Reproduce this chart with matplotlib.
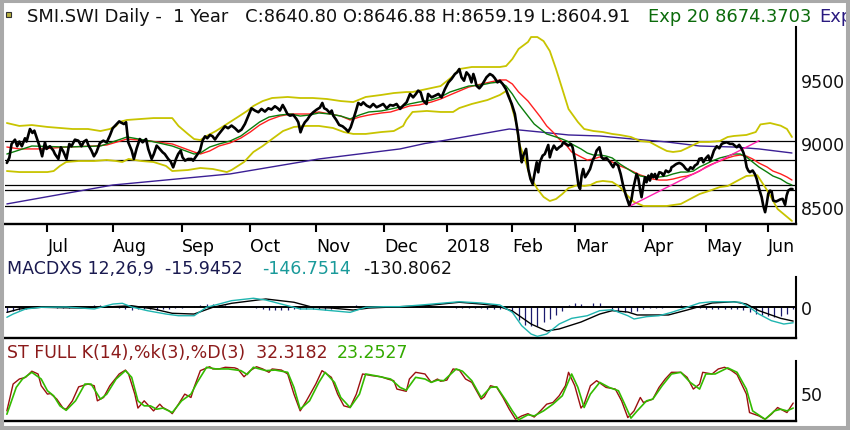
import matplotlib
matplotlib.use('Agg')
import matplotlib.pyplot as plt
from matplotlib.patches import Rectangle

# ---------- price panel (trading day index, index points) ----------
closeSeries = [
	(0.0,8847),(0.8,8889),(1.5,8996),(2.6,9030),(3.3,8978),(4.0,9015),(4.8,8978),(5.8,9041),(6.3,9015),(7.4,9114),
	(8.2,9083),(8.8,9101),(9.5,9049),(10.4,8983),(11.3,8899),(12.2,9009),(12.7,8957),(13.8,8978),(14.9,8944),(15.4,8917),
	(16.5,8878),(17.3,8970),(18.1,8936),(19.1,8878),(20.0,8996),(20.7,8978),(21.8,9030),(22.9,9022),(23.9,8978),(24.7,9015),
	(25.5,9028),(26.1,8988),(27.1,8944),(27.9,8899),(28.7,8931),(29.8,9004),(30.9,9022),(32.0,9009),(33.0,9062),(33.9,9119),
	(35.2,9153),(36.0,9174),(36.4,9167),(37.5,9153),(38.2,9167),(38.9,9009),(40.0,8944),(40.7,8878),(41.6,8962),(42.6,9035),
	(43.5,9009),(44.6,9035),(45.3,8957),(46.4,8878),(47.1,8917),(48.0,8983),(48.8,8962),(49.9,8931),(50.6,8917),(51.7,8878),
	(52.5,8857),(53.3,8812),(54.2,8878),(54.9,8917),(55.7,8944),(56.3,8891),(57.1,8865),(58.1,8878),(59.2,8878),(59.7,8865),
	(60.8,8904),(61.9,8944),(62.7,9022),(63.5,9056),
	(64.2,9041),(65.1,9067),(65.9,9057),(66.7,9031),(67.7,9067),(68.8,9101),(69.9,9135),(70.9,9120),(72.0,9141),(73.1,9120),
	(74.2,9093),(75.2,9109),(76.3,9154),(77.4,9219),(78.4,9277),(79.5,9259),(80.6,9246),(81.6,9272),(82.7,9251),(83.8,9277),
	(84.8,9267),(85.9,9293),(86.8,9277),(87.5,9259),(88.4,9303),(89.1,9272),(89.9,9232),(90.7,9219),(91.8,9225),(92.8,9193),
	(93.4,9167),(94.1,9088),(94.8,9135),(95.5,9167),(96.3,9188),(97.1,9219),(98.2,9246),(99.3,9267),(100.3,9282),(101.1,9319),
	(101.7,9277),(102.5,9267),(103.5,9240),(104.1,9259),(104.6,9219),(105.5,9188),(106.5,9146),(107.6,9135),(108.6,9114),(109.4,9093),
	(110.2,9128),(111.0,9188),(111.9,9259),(112.6,9319),(113.5,9303),(114.2,9324),(115.3,9298),(116.4,9285),(117.4,9311),(118.5,9285),
	(119.6,9298),(120.6,9311),(121.7,9277),(122.8,9303),(123.8,9298),(124.9,9311),(126.0,9272),(127.0,9298),(128.1,9324),(129.2,9390),
	(130.2,9363),(131.1,9390),(131.8,9416),(132.6,9403),(133.4,9337),(134.5,9311),(135.0,9390),(136.1,9363),(137.2,9376),(138.3,9390),
	(139.3,9363),(140.4,9429),(141.5,9481),(142.5,9508),(143.6,9547),(144.3,9560),(145.0,9586),(145.7,9521),(146.5,9494),(147.3,9560),
	(148.2,9534),(148.9,9481),(149.5,9547),(150.0,9508),(150.5,9455),(151.4,9434),(152.1,9455),(152.9,9487),(153.7,9521),(154.8,9547),
	(155.7,9534),(156.4,9513),(157.2,9481),(158.0,9494),(158.9,9468),(159.9,9429),(160.7,9376),(161.8,9311),(162.8,9232),(163.4,9140),
	(163.9,9062),(164.4,8957),(165.0,8852),(165.5,8904),(166.4,8957),(167.1,8799),(167.8,8721),(168.5,8681),(169.0,8747),(169.8,8852),
	(170.3,8773),(170.8,8852),(171.7,8904),(172.4,8917),(173.0,8957),(173.5,8988),(174.0,8891),(174.6,8944),(175.3,8983),(176.2,8951),
	(177.0,8970),(177.8,8983),(178.3,9009),(179.2,8996),(179.9,8983),(180.7,8996),(181.3,8970),(182.1,8865),(182.6,8773),(183.2,8668),
	(183.7,8642),(184.2,8747),(184.7,8799),(185.3,8734),(186.0,8760),(186.9,8799),(187.7,8865),(188.5,8904),(189.0,8944),(189.9,8970),
	(190.6,8891),(191.1,8879),(192.2,8884),(193.3,8852),(193.8,8831),(194.3,8813),(194.9,8847),(195.9,8826),(196.7,8760),(197.5,8669),
	(198.4,8590),(199.5,8511),(200.2,8564),(200.7,8642),(201.3,8708),(201.8,8760),(202.4,8721),(202.9,8642),(203.4,8577),(204.0,8669),
	(204.5,8734),(205.0,8695),(205.6,8747),(206.1,8708),(206.6,8760),(207.2,8734),(207.7,8760),(208.2,8721),(209.1,8774),(209.8,8768),
	(210.4,8747),(211.2,8787),(212.0,8774),(212.7,8787),(213.0,8813),(213.6,8821),(214.1,8831),(214.6,8839),(215.5,8847),(216.2,8839),
	(216.8,8826),(217.6,8800),(218.4,8787),(219.1,8813),(219.8,8800),(220.5,8826),(221.3,8839),(221.9,8879),(222.7,8884),(223.2,8852),
	(224.0,8884),(224.8,8905),(225.3,8865),(225.9,8892),(226.6,8944),(227.5,8978),(228.3,8962),(229.1,8997),(229.8,9004),(230.7,9010),
	(231.7,8997),(232.6,8997),(233.3,8983),(233.9,8970),(234.7,8989),(235.5,8957),(236.0,8931),(236.5,8892),(237.1,8813),(237.6,8787),
	(238.1,8774),(239.0,8787),(239.7,8760),(240.3,8721),(241.1,8642),(241.9,8577),(242.4,8511),(243.0,8459),(243.5,8524),(244.0,8603),
	(244.6,8629),(245.1,8622),(245.6,8551),(246.5,8543),(247.2,8551),(247.8,8559),(248.6,8564),(249.4,8517),(249.9,8590),(250.4,8629),
	(251.2,8642),(251.8,8641),
]

ema20Series = [
	(0,8917),(8,8980),(19,8972),(30,8980),(38.5,9051),(46,9019),(53,8980),(60,8917),(62,8925),(65,8972),(68,8996),(71.5,9019),
	(75,9059),(78,9114),(81,9169),(84,9208),(87.5,9224),(91,9232),(94,9216),(97,9224),(100,9240),(103.5,9232),(107,9216),
	(110,9193),(113,9224),(116,9248),(120,9256),(123,9271),(126,9287),(129,9311),(132,9326),(136,9342),(139,9366),(142,9405),
	(145,9429),(148,9452),(152,9460),(155,9476),(158,9484),(160,9452),(162,9389),(164,9311),(167,9216),(169,9153),(171,9114),
	(173,9075),(175,9059),(177,9043),(179.5,9019),(181,8996),(184,8957),(186,8925),(188,8909),(190,8909),(192,8901),(194,8886),
	(196.5,8838),(199,8799),(201,8768),(203,8744),(205,8736),(207,8736),(209,8736),(211.5,8744),(213.5,8760),(216,8775),
	(218,8775),(220,8783),(222,8815),(224,8838),(226,8862),(228.5,8886),(231,8901),(233,8917),(235,8917),(237,8894),(239,8854),
	(241,8815),(243.6,8775),(245.5,8744),(248,8720),(250,8689),(251.6,8673),
]

emaSlowSeries = [
	(0,8972),(4,8957),(11,8957),(19,8972),(28,8980),(32,8988),(38.5,9035),(46,9019),(53,8996),(60,8933),(62,8917),(65,8941),
	(68,8980),(71.5,9004),(75,9043),(78,9090),(81,9145),(84,9185),(87.5,9216),(91,9232),(94,9232),(97,9232),(100,9248),
	(103.5,9232),(107,9216),(110,9185),(113,9208),(116,9224),(120,9240),(123,9248),(126,9271),(129,9295),(132,9303),(136,9326),
	(139,9350),(142,9382),(145,9413),(148,9444),(152,9468),(155,9484),(158,9500),(160,9500),(162,9468),(164,9405),(167,9334),
	(169,9271),(171,9208),(173,9138),(175,9090),(177,9035),(179.5,8980),(181,8933),(184,8894),(186,8870),(188,8878),(190,8894),
	(192,8878),(194,8854),(196.5,8823),(199,8799),(201,8775),(203,8752),(205,8736),(207,8720),(209,8712),(211.5,8712),
	(213.5,8720),(216,8736),(218,8744),(220,8760),(222,8783),(224,8815),(226,8838),(228.5,8862),(231,8886),(233,8901),
	(235,8909),(237,8901),(239,8878),(241,8846),(243.6,8815),(245.5,8783),(248,8760),(250,8736),(251.6,8712),
]

bandUpper = [
	(0,9161),(4,9138),(8,9145),(13,9130),(17,9122),(21,9114),(26,9114),(30,9098),(33,9114),(35,9138),(36,9169),(38.5,9185),
	(43,9193),(47,9200),(51,9200),(53,9200),(55,9138),(58,9075),(60,9035),(62,9027),(64,9059),(67,9098),(70.5,9153),(74,9208),
	(77,9256),(79,9295),(82,9334),(85,9358),(90,9366),(94,9358),(98,9358),(102.6,9350),(107,9334),(111,9326),(115,9366),
	(120,9382),(124,9397),(128,9405),(130,9405),(134.6,9429),(139,9452),(143,9531),(145,9586),(149,9602),(154,9602),(158,9602),
	(160,9610),(162,9665),(164,9744),(167,9799),(168,9838),(170,9838),(172,9806),(174,9728),(176,9586),(178,9429),(180,9271),
	(183,9169),(185,9114),(188,9098),(191,9090),(194,9075),(196.5,9067),(200,9051),(203,9019),(206,9012),(209,8972),
	(211.5,8941),(213.5,8933),(216,8941),(218,8964),(220,8988),(222,9012),(225,9012),(228.5,9019),(231,9051),(233,9059),
	(237,9067),(240,9090),(241.5,9150),(244.6,9161),(248,9140),(250,9114),(251.6,9051),
]

bandLower = [
	(0,8783),(4,8775),(13,8775),(15,8783),(17,8823),(19,8854),(23,8862),(28,8862),(32,8870),(35,8862),(37,8854),(39,8878),
	(43,8862),(47,8854),(51,8823),(53,8783),(58,8791),(62,8807),(66,8799),(70.5,8775),(72,8791),(76,8854),(79,8933),(82,8980),
	(85,9035),(88.5,9098),(92,9130),(96,9138),(100,9138),(104.5,9122),(108,9090),(111,9075),(115,9075),(120,9090),(124,9098),
	(127,9138),(128,9185),(130,9248),(134.6,9256),(139,9248),(143,9248),(145,9279),(149,9311),(154,9342),(158,9382),(160,9413),
	(161,9374),(162,9271),(163.5,9138),(164,9012),(166,8878),(167.6,8744),(170,8642),(172,8579),(174,8547),(176,8563),
	(178,8602),(180,8649),(183,8673),(185,8665),(187,8673),(189,8697),(191,8705),(194,8697),(196.5,8657),(199,8587),(201,8539),
	(204,8508),(207,8508),(211.5,8508),(216,8524),(219,8563),(222,8602),(225,8626),(228.5,8657),(231,8665),(234,8705),
	(237,8744),(240.5,8750),(244,8618),(247,8484),(251.6,8390),
]

ma200Series = [
	(0,8524),(34,8673),(71.5,8760),(100,8878),(126,8957),(134,9000),(139,9019),(152,9075),(161,9114),(171,9090),(180,9067),
	(190,9059),(200.6,9035),(211.5,9012),(222,8980),(233,8972),(241,8957),(251.6,8925),
]

trendLine = [(199.5,8505),(241.1,9022)]
levelLines = [9017, 8870, 8676, 8632, 8505]
priceTicks = [8500, 9000, 9500]

monthDays = [13, 34, 56, 78, 99, 121, 141, 162, 182, 204, 224, 244]
monthNames = ['Jul', 'Aug', 'Sep', 'Oct', 'Nov', 'Dec', '2018', 'Feb', 'Mar', 'Apr', 'May', 'Jun']

# ---------- MACD panel ----------
macdSeries = [
	(0,-95),(2,-64),(6,-16),(11,0),(19,3),(28,-16),(34,31),(37,38),(40,3),(45,-32),(51,-64),(55,-80),(60,-80),(64,0),
	(68,31),(72,63),(79,86),(83,69),(90,15),(94,-16),(98,-16),(104,-32),(110,-48),(115,0),(121,6),(126,6),(134,25),(139,38),
	(145,53),(152,41),(158,22),(162,-48),(165,-175),(168,-254),(170,-276),(173,-254),(177,-159),(181,-105),(186,-80),(190,-32),
	(194,-23),(199,-80),(201,-111),(205,-89),(209,-80),(213,-48),(218,0),(222,41),(226,53),(231,53),(235,48),(238,0),
	(241,-64),(245,-127),(249,-159),(252,-147),
]
signalSeries = [
	(0,-48),(4,-16),(11,0),(24,-7),(34,6),(40,15),(47,-16),(53,-57),(60,-64),(66,0),(72,38),(83,79),(92,48),(98,0),
	(104,-7),(111,-26),(116,-7),(126,6),(134,15),(145,48),(152,31),(157,15),(162,-35),(168,-159),(173,-225),(177,-206),
	(184,-140),(190,-64),(194,-32),(199,-45),(202,-73),(212,-73),(218,-26),(226,41),(233,53),(237,31),(241,-32),
	(248,-105),(252,-131),
]
# histogram, one bar every second trading day starting at day 0
histVals = [
	-40,-35,-25,-15,-5,5,10,5,-5,-10,-5,5,0,10,20,25,15,5,-10,-20,
	-25,-20,-15,-20,-25,-20,-15,-10,-5,0,10,25,30,28,22,18,12,5,5,0,
	-5,-15,-25,-30,-28,-25,-20,-18,-15,-15,-20,-25,-15,-10,0,15,20,15,10,5,
	0,0,5,10,15,15,12,10,8,5,5,0,-5,-5,-8,-10,-10,-12,-15,-15,
	-20,-45,-120,-165,-180,-174,-143,-111,-73,-32,22,41,28,16,41,41,16,-22,-45,-48,
	-48,-32,-15,-10,-10,-5,5,12,22,16,0,-10,-14,-16,-16,-16,-16,-18,-25,-40,
	-63,-75,-85,-95,-86,-63,-16,
]

# ---------- stochastic panel ----------
stochK = [
	(0,18),(2,66),(4,75),(6,78),(8,89),(10,84),(11,63),(13,48),(14,49),(16,39),(18,23),(19,21),(21,36),(23,61),(26,66),
	(28,63),(29,36),(31,42),(33,63),(36,84),(38,91),(39,84),(41,48),(42,23),(44,36),(45,30),(47,18),(49,30),(50,24),(52,18),
	(53,13),(55,30),(57,48),(59,42),(60,60),(62,90),(65,97),(66,93),(68,93),(70,96),(73,95),(74,93),(76,79),(78,90),(80,97),
	(82,93),(84,87),(85,93),(88,91),(90,84),(92,48),(94,18),(96,36),(99,66),(101,90),(104,78),(106,48),(108,27),(110,24),
	(112,48),(114,84),(117,81),(120,79),(122,75),(124,72),(125,57),(128,53),(129,75),(131,87),
	(134,84),(136,69),(138,75),(139,71),(141,73),(143,93),(145,91),(147,75),(149,69),(152,39),(153,43),(155,63),(157,60),
	(159,42),(161,21),(163,3),(165,9),(167,13),(169,7),(171,18),(173,30),(175,33),(177,45),(179,63),(180,87),(182,63),
	(184,23),(185,30),(187,63),(189,72),(192,60),(195,57),(197,36),(199,6),(201,18),(203,42),(204,33),(207,39),(209,60),
	(211,75),(213,87),(216,87),(218,78),(220,57),(222,66),(223,87),(226,84),(228,93),(230,96),(232,91),(234,83),(237,48),
	(238,15),(241,9),(243,3),(245,12),(247,24),(249,18),(250,15),(252,32),
]
stochD = [
	(0,12),(3,60),(5,75),(8,87),(11,75),(13,54),(15,45),(17,27),(19,19),(22,36),(25,66),(27,66),(30,39),(32,48),(35,75),
	(38,90),(40,78),(42,36),(44,27),(46,27),(48,21),(50,23),(53,15),(56,36),(59,48),(61,69),(64,96),(67,93),(71,93),(75,90),
	(77,83),(79,96),(83,90),(86,91),(90,87),(92,60),(94,21),(97,36),(100,69),(102,87),(105,69),(107,42),(110,24),(113,48),
	(115,84),(118,81),(123,75),(126,60),(128,55),(131,78),
	(134,75),(136,69),(138,73),(140,72),(144,93),(146,89),(149,72),(152,42),(155,60),(157,61),(160,36),(162,18),(164,2),
	(167,11),(169,9),(172,18),(175,30),(178,45),(181,84),(183,60),(185,24),(187,48),(190,69),(193,60),(196,54),(198,30),
	(200,5),(202,18),(205,36),(207,39),(210,63),(213,84),(216,87),(219,69),(222,57),(224,84),(227,84),(231,95),(234,87),
	(237,57),(239,18),(243,3),(246,18),(248,21),(250,18),(252,23),
]

W, H = 850.0, 431.0
XLIM = (-0.6, 252.9)


# axes rectangle from pixel rows/columns of the reference
def pxRect(top, bottom, left=5, right=796):
	return [left / W, 1 - bottom / H, (right - left) / W, (bottom - top) / H]


def split(pts):
	return [p[0] for p in pts], [p[1] for p in pts]


def drawSeries(ax, pts, color, lw, z=3):
	xs, ys = split(pts)
	ax.plot(xs, ys, color=color, lw=lw, zorder=z, solid_joinstyle='round', solid_capstyle='round')


# common look of a panel: only bottom line and right scale
def setupPanel(ax, ylim, spineTop, ticks, labels):
	ax.set_xlim(*XLIM)
	ax.set_ylim(*ylim)
	ax.patch.set_alpha(0)
	for s in ('top', 'left'):
		ax.spines[s].set_visible(False)
	ax.spines['bottom'].set_linewidth(1.7)
	ax.spines['right'].set_linewidth(1.5)
	ax.spines['right'].set_bounds(ylim[0], spineTop)
	ax.yaxis.tick_right()
	ax.set_yticks(ticks)
	ax.set_yticklabels(labels)
	ax.tick_params(axis='y', length=0, pad=3.4, labelsize=12.5, colors='#111111')


def figText(x, y, s, color, size=12.5):
	fig.text(x / W, 1 - y / H, s, color=color, fontsize=size, va='center', ha='left')


fig = plt.figure(figsize=(8.5, 4.31), dpi=100)

# price panel
axP = fig.add_axes(pxRect(5, 225))
setupPanel(axP, (8366, 10098), 9917, priceTicks, [str(t) for t in priceTicks])
for lvl in levelLines:
	axP.axhline(lvl, color='black', lw=0.9, zorder=1)
drawSeries(axP, ma200Series, '#3b1f95', 1.0, 2)
drawSeries(axP, bandUpper, '#c8c400', 1.3, 2)
drawSeries(axP, bandLower, '#c8c400', 1.3, 2)
drawSeries(axP, emaSlowSeries, '#ff2020', 1.0, 3)
drawSeries(axP, ema20Series, '#0b7d0b', 1.0, 3)
drawSeries(axP, trendLine, '#ff20b0', 1.0, 3)
drawSeries(axP, closeSeries, 'black', 1.9, 4)
axP.set_xticks(monthDays)
axP.set_xticklabels(monthNames, ha='left')
axP.tick_params(axis='x', length=6, width=1.5, direction='out', pad=3.5, labelsize=12.5)

# MACD panel
axM = fig.add_axes(pxRect(258, 338.5))
setupPanel(axM, (-287, 478), 288, [0], ['0'])
axM.set_xticks([])
histDays = list(range(0, 2 * len(histVals), 2))
axM.vlines(histDays, 0, histVals, color='#1a1a6e', lw=0.9, zorder=2)
axM.axhline(0, color='black', lw=1.4, zorder=2)
drawSeries(axM, signalSeries, 'black', 1.0, 3)
drawSeries(axM, macdSeries, '#1fb5b0', 1.0, 3)

# stochastic panel
axS = fig.add_axes(pxRect(342, 422))
setupPanel(axS, (-0.1, 143), 107, [50], ['50'])
axS.set_xticks([])
drawSeries(axS, stochK, '#9b1010', 1.0, 3)
drawSeries(axS, stochD, '#33bb00', 1.2, 3)

# titles
figText(27, 17, 'SMI.SWI Daily -  1 Year   C:8640.80 O:8646.88 H:8659.19 L:8604.91', '#111111', 12.9)
figText(648, 17, 'Exp 20 8674.3703', '#0b6b0b', 12.9)
figText(819, 17, 'Exp', '#2a1a80', 12.9)
figText(7, 269, 'MACDXS 12,26,9  -15.9452', '#1a1a50')
figText(262, 269, '-146.7514', '#1a9a9a')
figText(363, 269, '-130.8062', '#111111')
figText(7, 353, 'ST FULL K(14),%k(3),%D(3)  32.3182', '#8b1a1a')
figText(337, 353, '23.2527', '#33aa00')

# small icon and gray window frame
fig.add_artist(Rectangle((6 / W, 1 - 18 / H), 5 / W, 5 / H, transform=fig.transFigure,
	facecolor='#b8b040', edgecolor='#333333', lw=0.8))
fig.add_artist(Rectangle((0, 0), 1, 1, transform=fig.transFigure, fill=False,
	edgecolor='#a9a9a9', lw=5.8, zorder=10))

fig.savefig('out.png', dpi=100)
